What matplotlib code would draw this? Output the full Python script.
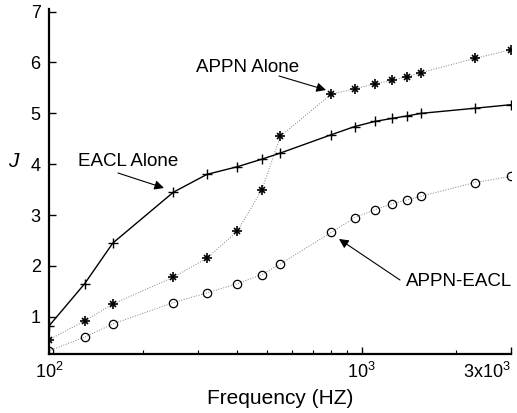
import numpy as np
import matplotlib.pyplot as plt
from matplotlib.ticker import FixedLocator, NullFormatter

plt.rcParams['font.family'] = ['Liberation Sans', 'DejaVu Sans']
plt.rcParams['mathtext.fontset'] = 'custom'
plt.rcParams['mathtext.rm'] = 'Liberation Sans'
plt.rcParams['mathtext.it'] = 'Liberation Sans:italic'

# frequencies (Hz)
freq = [100, 130, 160, 250, 320, 400, 480, 550, 800, 950, 1100, 1250, 1400, 1550, 2300, 3000]

eacl_alone = [0.82, 1.65, 2.45, 3.45, 3.80, 3.95, 4.10, 4.22, 4.58, 4.74, 4.84, 4.90, 4.95, 5.0, 5.10, 5.17]
appn_alone = [0.55, 0.92, 1.25, 1.78, 2.15, 2.68, 3.50, 4.55, 5.38, 5.48, 5.58, 5.65, 5.72, 5.80, 6.08, 6.25]
appn_eacl = [0.33, 0.60, 0.86, 1.28, 1.47, 1.65, 1.83, 2.04, 2.66, 2.95, 3.10, 3.22, 3.30, 3.37, 3.64, 3.76]

x_ticks = [100, 1000, 3000]
x_ticklabels = [r'$10^2$', r'$10^3$', r'$3\mathrm{x}10^3$']
y_ticks = [1, 2, 3, 4, 5, 6, 7]

fig = plt.figure(figsize=(5.17, 4.13), dpi=100)
ax = fig.add_axes([0.0948, 0.143, 0.893, 0.835])

ax.plot(freq, eacl_alone, color='black', lw=1.0, marker='+', ms=7, mew=1.0)
ax.plot(freq, appn_alone, color='0.5', lw=0.7, ls=':')
ax.plot(freq, appn_alone, ls='none', marker='+', ms=7, mew=1.2, color='black')
ax.plot(freq, appn_alone, ls='none', marker='x', ms=5, mew=1.2, color='black')
ax.plot(freq, appn_eacl, color='0.5', lw=0.7, ls=':', marker='o', ms=6,
        mfc='none', mec='black', mew=0.9)

ax.set_xscale('log')
ax.set_xlim(100, 3000)
ax.set_ylim(0.27, 7.05)

ax.xaxis.set_major_locator(FixedLocator(x_ticks))
ax.set_xticklabels(x_ticklabels)
ax.get_xticklabels()[2].set_ha('right')
ax.xaxis.set_minor_locator(FixedLocator([200, 300, 400, 500, 600, 700, 800, 900, 2000]))
ax.xaxis.set_minor_formatter(NullFormatter())
ax.set_yticks(y_ticks)

for s in ['top', 'right']:
    ax.spines[s].set_visible(False)
for s in ['left', 'bottom']:
    ax.spines[s].set_linewidth(1.6)

ax.tick_params(direction='in', length=5, width=1, labelsize=13, pad=6)
ax.tick_params(which='minor', direction='in', length=3, width=0.8)

ax.set_xlabel('Frequency (HZ)', fontsize=15, labelpad=5)
ax.set_ylabel('$J$', fontsize=15, rotation=0, labelpad=14)
ax.yaxis.set_label_coords(-0.075, 0.53)

arrow = dict(arrowstyle='-|>', color='black', lw=0.8, mutation_scale=14,
             shrinkA=0, shrinkB=0)


def px(x, y):
    return (x, 413 - y)


ax.text(*px(128, 161), 'EACL Alone', transform=None, fontsize=13.5,
        ha='center', va='center')
ax.annotate('', xy=px(164, 188), xytext=px(118, 173), xycoords='figure pixels',
            textcoords='figure pixels', arrowprops=arrow)

ax.text(*px(248, 68), 'APPN Alone', transform=None, fontsize=13.5,
        ha='center', va='center')
ax.annotate('', xy=px(326, 90), xytext=px(279, 76), xycoords='figure pixels',
            textcoords='figure pixels', arrowprops=arrow)

ax.text(*px(459, 282), 'APPN-EACL', transform=None, fontsize=13.5,
        ha='center', va='center')
ax.annotate('', xy=px(339, 239), xytext=px(400, 280), xycoords='figure pixels',
            textcoords='figure pixels', arrowprops=arrow)

fig.savefig('out.png', dpi=100)
